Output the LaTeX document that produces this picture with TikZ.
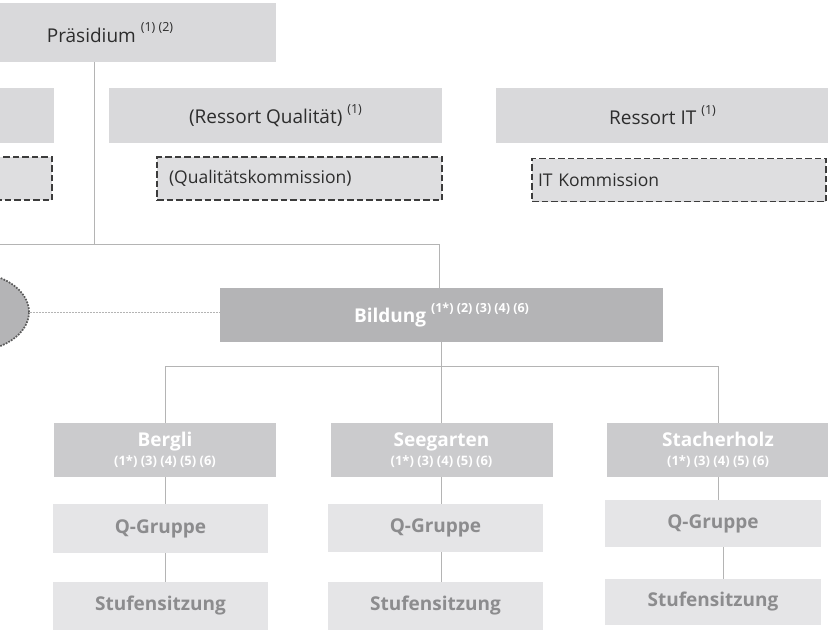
\documentclass[tikz,border=0pt]{standalone}
\usepackage{fontspec}
\setmainfont{Open Sans}
\usetikzlibrary{shapes.geometric}

\definecolor{grauhell}{RGB}{217,217,219}
\definecolor{graukom}{RGB}{222,222,224}
\definecolor{graubild}{RGB}{180,180,182}
\definecolor{grauschul}{RGB}{203,203,205}
\definecolor{grauq}{RGB}{229,229,231}
\definecolor{schrift}{RGB}{45,45,45}
\definecolor{schriftq}{RGB}{140,140,142}
\definecolor{rahmen}{RGB}{60,60,60}
\definecolor{linie}{RGB}{180,180,180}

\newcommand{\hoch}[1]{\raisebox{0.55em}{\fontsize{12.5}{12.5}\selectfont #1}}

\begin{document}
\begin{tikzpicture}[x=1pt,y=-1pt,
    ressort/.style={fill=grauhell, text=schrift, minimum width=333pt, minimum height=55pt, inner sep=0pt, font=\fontsize{19}{23}\selectfont},
    kommission/.style={draw=rahmen, line width=1.8pt, dash pattern=on 6.5pt off 3pt, fill=graukom, text=schrift, minimum height=43pt, inner xsep=12pt, align=left, font=\fontsize{17.5}{21}\selectfont},
    schule/.style={fill=grauschul, text=white, minimum width=222pt, minimum height=54pt, inner sep=0pt, align=center, font=\bfseries\fontsize{19}{21}\selectfont},
    gremium/.style={fill=grauq, text=schriftq, minimum width=215pt, minimum height=48pt, inner sep=0pt, font=\bfseries\fontsize{19}{23}\selectfont},
    linienzug/.style={draw=linie, line width=0.9pt},
  ]
  \clip (0,0) rectangle (828,635);
  % oberste Ebene
  \node[ressort, minimum width=332pt, minimum height=59pt] (praes) at (110,32.5) {Präsidium \hoch{(1) (2)}};
  \node[ressort] (links) at (-112.5,115.5) {};
  \node[ressort] (quali) at (275.5,115.5) {(Ressort Qualität) \hoch{(1)}};
  \node[ressort] (it) at (662.5,115) {Ressort IT \hoch{(1)}};
  % Kommissionen
  \node[kommission, text width=261pt] (komlinks) at (-90.5,178.5) {};
  \node[kommission, text width=261pt] (komquali) at (299.5,178.5) {(Qualitätskommission)};
  \node[kommission, text width=282pt, inner xsep=6pt] (komit) at (679,180) {IT Kommission};
  % Bildung
  \node[fill=graubild, text=white, minimum width=443pt, minimum height=54pt, inner sep=0pt, font=\bfseries\fontsize{19}{23}\selectfont] (bild) at (441.5,315) {Bildung \hoch{(1*) (2) (3) (4) (6)}};
  \node[ellipse, fill=graubild, draw=rahmen!85, line width=1.7pt, dash pattern=on 1.7pt off 1.3pt, minimum width=120pt, minimum height=80pt] (zirkel) at (-31,312) {};
  \draw[draw=linie, line width=0.6pt, dash pattern=on 2pt off 1pt] (zirkel.east) -- (zirkel.east -| bild.west);
  % Schulen
  \node[schule] (bergli) at (165,450) {Bergli\\[-2pt]{\fontsize{13}{15}\selectfont (1*) (3) (4) (5) (6)}};
  \node[schule] (seeg) at (441.5,450) {Seegarten\\[-2pt]{\fontsize{13}{15}\selectfont (1*) (3) (4) (5) (6)}};
  \node[schule] (stach) at (718,450) {Stacherholz\\[-2pt]{\fontsize{13}{15}\selectfont (1*) (3) (4) (5) (6)}};
  \node[gremium, minimum height=49pt] (qb) at (160.5,528.5) {Q-Gruppe};
  \node[gremium] (qs) at (435.5,528) {Q-Gruppe};
  \node[gremium, minimum width=216pt, minimum height=47pt] (qh) at (713,523.5) {Q-Gruppe};
  \node[gremium] (sb) at (160.5,606) {Stufensitzung};
  \node[gremium] (ss) at (435.5,606) {Stufensitzung};
  \node[gremium, minimum width=216pt, minimum height=46pt] (sh) at (713,602) {Stufensitzung};
  % Verbindungen
  \coordinate (bus) at (-60,244);
  \coordinate (gabel) at (441.5,366);
  \draw[linienzug] ([xshift=-16pt]praes.south) -- ([xshift=-16pt]praes.south |- bus);
  \draw[linienzug] (bus) -- ([xshift=-2.5pt]bild.north |- bus) -- ([xshift=-2.5pt]bild.north);
  \draw[linienzug] (bild.south) -- (gabel) -- (seeg.north);
  \draw[linienzug] (bergli.north) -- (bergli.north |- gabel) -- (stach.north |- gabel) -- (stach.north);
  \draw[linienzug] (bergli.south) -- (bergli.south |- qb.north);
  \draw[linienzug] (bergli.south |- qb.south) -- (bergli.south |- sb.north);
  \draw[linienzug] (seeg.south) -- (seeg.south |- qs.north);
  \draw[linienzug] (seeg.south |- qs.south) -- (seeg.south |- ss.north);
  \draw[linienzug] (stach.south) -- (stach.south |- qh.north);
  \draw[linienzug] ([xshift=10pt]qh.south) -- ([xshift=10pt]sh.north);
\end{tikzpicture}
\end{document}
